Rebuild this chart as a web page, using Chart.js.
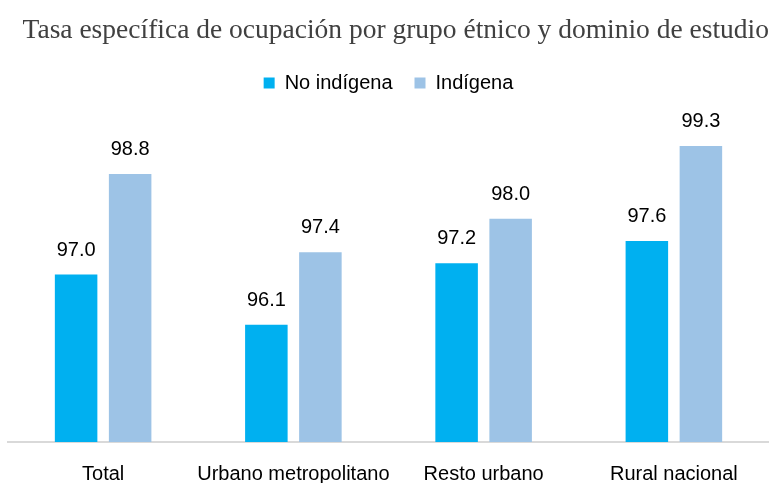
<!DOCTYPE html>
<html>
<head>
<meta charset="utf-8">
<script src="https://cdn.jsdelivr.net/npm/chart.js@4"></script>
<style>
  html, body { margin: 0; padding: 0; background: #fff; }
  #wrap { width: 769px; height: 483px; }
</style>
</head>
<body>
<div id="wrap"><canvas id="chart-ocupacion"></canvas></div>
<script>
// datos
const categorias = ['Total', 'Urbano metropolitano', 'Resto urbano', 'Rural nacional'];
const noIndigena = [97.0, 96.1, 97.2, 97.6];
const indigena = [98.8, 97.4, 98.0, 99.3];

// etiquetas encima de cada barra
const etiquetasBarras = {
    id: 'etiquetasBarras',
    afterDatasetsDraw(chart) {
        const ctx = chart.ctx;
        ctx.save();
        ctx.font = '20px "Liberation Sans", Arial, sans-serif';
        ctx.fillStyle = '#000000';
        ctx.textAlign = 'center';
        ctx.textBaseline = 'alphabetic';
        chart.data.datasets.forEach((ds, i) => {
            chart.getDatasetMeta(i).data.forEach((bar, j) => {
                ctx.fillText(ds.data[j].toFixed(1), bar.x, bar.y - 19);
            });
        });
        ctx.restore();
    }
};

// un poco mas de aire debajo de la leyenda
const espacioLeyenda = {
    id: 'espacioLeyenda',
    beforeInit(chart) {
        const fitOriginal = chart.legend.fit;
        chart.legend.fit = function() {
            fitOriginal.bind(chart.legend)();
            this.height += 4;
        };
    }
};

const ctx = document.getElementById('chart-ocupacion');
new Chart(ctx.getContext('2d'), {
    type: 'bar',
    data: {
        labels: categorias,
        datasets: [
            { label: 'No indígena', data: noIndigena, backgroundColor: '#00B0F0' },
            { label: 'Indígena', data: indigena, backgroundColor: '#9DC3E6' }
        ]
    },
    options: {
        responsive: true,
        maintainAspectRatio: false,
        animation: false,
        categoryPercentage: 0.568,
        barPercentage: 0.787,
        layout: { padding: { left: 8, right: 0, top: 0, bottom: -15 } },
        plugins: {
            title: {
                display: true,
                align: 'end',
                text: 'Tasa específica de ocupación por grupo étnico y dominio de estudio',
                color: '#404040',
                font: { family: '"Liberation Serif", "Times New Roman", serif', size: 27.5, weight: 'normal' },
                padding: { top: 14, bottom: 4 }
            },
            legend: {
                position: 'top',
                labels: {
                    boxWidth: 11,
                    boxHeight: 11,
                    color: '#000000',
                    padding: 22,
                    font: { family: '"Liberation Sans", Arial, sans-serif', size: 20 }
                }
            },
            tooltip: { enabled: false }
        },
        scales: {
            x: {
                grid: { display: false },
                border: { display: true, color: '#D9D9D9', width: 2 },
                ticks: {
                    color: '#000000',
                    padding: 12,
                    maxRotation: 0,
                    autoSkip: false,
                    font: { family: '"Liberation Sans", Arial, sans-serif', size: 20 }
                }
            },
            y: {
                display: false,
                min: 94,
                max: 100
            }
        }
    },
    plugins: [etiquetasBarras, espacioLeyenda]
});
</script>
</body>
</html>
